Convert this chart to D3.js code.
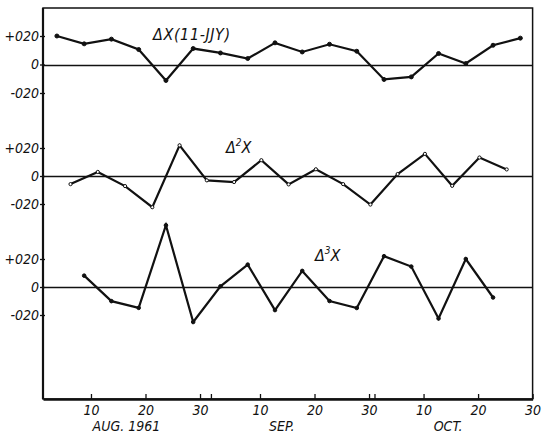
<!DOCTYPE html>
<html>
<head>
<meta charset="utf-8">
<script src="https://cdn.jsdelivr.net/npm/d3@7"></script>
<style>
  body { margin: 0; background: #fff; }
  svg text { font-family: "DejaVu Sans Condensed", "DejaVu Sans", sans-serif; font-style: italic; fill: #111; }
</style>
</head>
<body>
<svg id="chart" width="548" height="435"></svg>
<script>
// days counted from Jul 31 (Aug 1 = 1, Sep 1 = 32, Oct 1 = 62)
const dxDays = [3.75, 8.75, 13.75, 18.75, 23.75, 28.75, 33.75, 38.75, 43.75, 48.75, 53.75, 58.75, 63.75, 68.75, 73.75, 78.75, 83.75, 88.75];
const dxValues = [20, 14.5, 17.8, 10.5, -11.2, 11.2, 8.1, 4.2, 15.2, 8.8, 14.2, 9.3, -10.5, -8.7, 7.7, 0.7, 13.5, 18.5];

const dx2Days = [6.25, 11.25, 16.25, 21.25, 26.25, 31.25, 36.25, 41.25, 46.25, 51.25, 56.25, 61.25, 66.25, 71.25, 76.25, 81.25, 86.25];
const dx2Values = [-5.8, 2.9, -7.2, -22.3, 21.9, -3.1, -4.3, 11.3, -6, 4.8, -5.8, -20.4, 1.4, 15.8, -7, 13.2, 4.7];

const dx3Days = [8.75, 13.75, 18.75, 23.75, 28.75, 33.75, 38.75, 43.75, 48.75, 53.75, 58.75, 63.75, 68.75, 73.75, 78.75, 83.75];
const dx3Values = [8.1, -10.1, -14.9, 44.1, -25, 0.5, 16, -16.5, 11.5, -10, -15, 22, 14.6, -22.5, 20, -7.5];

const xTickDays = [10, 20, 30, 32, 41, 51, 61, 62, 71, 81, 91];
const xTickLabels = ["10", "20", "30", "", "10", "20", "30", "", "10", "20", "30"];
const months = [{name: "AUG. 1961", day: 16.5}, {name: "SEP.", day: 45}, {name: "OCT.", day: 75.5}];

const yTicks = [-20, 0, 20];
const yTickLabels = ["-020", "0", "+020"];

const svg = d3.select("#chart");
const frameLeft = 43, frameRight = 532.6, frameTop = 8, frameBottom = 399;

const x = d3.scaleLinear().domain([1.2, 91]).range([frameLeft, frameRight]);

// one scale per strip
const panels = [
  {days: dxDays, values: dxValues, y: d3.scaleLinear().domain([-20, 20]).range([93, 36]),
   title: "ΔX(11-JJY)", sup: null, tx: 153, ty: 40, r: 2, fill: "#111"},
  {days: dx2Days, values: dx2Values, y: d3.scaleLinear().domain([-20, 20]).range([204, 148]),
   title: "Δ", sup: "2", tx: 226, ty: 153, r: 1.6, fill: "#fff"},
  {days: dx3Days, values: dx3Values, y: d3.scaleLinear().domain([-20, 20]).range([315, 259]),
   title: "Δ", sup: "3", tx: 315, ty: 261, r: 1.8, fill: "#111"}
];

const line = d3.line();

panels.forEach(function(p) {
  // zero line
  svg.append("line")
    .attr("x1", frameLeft).attr("x2", frameRight)
    .attr("y1", Math.round(p.y(0)) + 0.5).attr("y2", Math.round(p.y(0)) + 0.5)
    .attr("stroke", "#111").attr("stroke-width", 1.3);

  const yAxis = d3.axisLeft(p.y)
    .tickValues(yTicks)
    .tickSize(5)
    .tickPadding(1)
    .tickFormat(function(d) { return yTickLabels[yTicks.indexOf(d)]; });
  const g = svg.append("g").attr("transform", "translate(" + (frameLeft + 2) + ",0)").call(yAxis);
  g.attr("font-family", null);
  g.select(".domain").remove();
  g.selectAll(".tick line").attr("stroke", "#111").attr("stroke-width", 1.3);
  g.selectAll(".tick text").attr("font-size", 14);

  const pts = p.days.map(function(d, i) { return [x(d), p.y(p.values[i])]; });
  svg.append("path")
    .attr("d", line(pts))
    .attr("fill", "none").attr("stroke", "#111")
    .attr("stroke-width", 2.2).attr("stroke-linejoin", "miter");

  svg.selectAll(null).data(pts).enter().append("circle")
    .attr("cx", function(d) { return d[0]; })
    .attr("cy", function(d) { return d[1]; })
    .attr("r", p.r)
    .attr("fill", p.fill).attr("stroke", "#111").attr("stroke-width", 1);

  const t = svg.append("text")
    .attr("x", p.tx).attr("y", p.ty)
    .attr("font-size", 16);
  if (p.sup) {
    t.append("tspan").text(p.title);
    t.append("tspan").attr("font-size", 10).attr("dy", -7).text(p.sup);
    t.append("tspan").attr("dy", 7).text("X");
  } else {
    t.attr("letter-spacing", 0.6).text(p.title);
  }
});

// frame
svg.append("rect")
  .attr("x", frameLeft).attr("y", frameTop)
  .attr("width", frameRight - frameLeft).attr("height", frameBottom - frameTop)
  .attr("fill", "none").attr("stroke", "#111").attr("stroke-width", 1.5);
svg.append("line")
  .attr("x1", frameLeft).attr("x2", frameLeft).attr("y1", frameTop).attr("y2", frameBottom)
  .attr("stroke", "#111").attr("stroke-width", 2.2);

const xAxis = d3.axisBottom(x)
  .tickValues(xTickDays)
  .tickSizeInner(-5)
  .tickSizeOuter(0)
  .tickPadding(6)
  .tickFormat(function(d) { return xTickLabels[xTickDays.indexOf(d)]; });
const xg = svg.append("g").attr("transform", "translate(0," + frameBottom + ")").call(xAxis);
xg.attr("font-family", null);
xg.select(".domain").attr("stroke", "#111").attr("stroke-width", 2.4);
xg.selectAll(".tick line").attr("stroke", "#111").attr("stroke-width", 1.3);
xg.selectAll(".tick text").attr("font-size", 14);

svg.selectAll(".month").data(months).enter().append("text")
  .attr("class", "month")
  .attr("x", function(d) { return x(d.day); })
  .attr("y", 431)
  .attr("text-anchor", "middle")
  .attr("font-size", 14)
  .text(function(d) { return d.name; });
</script>
</body>
</html>
